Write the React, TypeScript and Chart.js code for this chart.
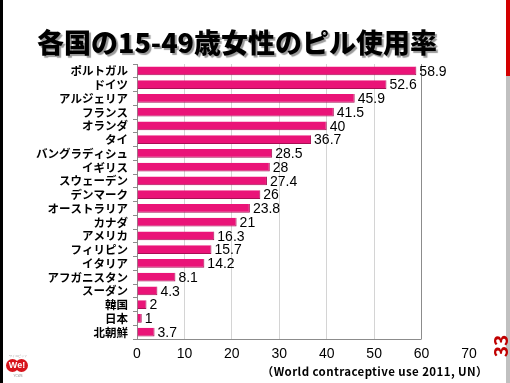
import React, { useEffect, useRef } from "react";
import { Chart, registerables } from "chart.js";

Chart.register(...registerables);

const categories = [
  "ポルトガル", "ドイツ", "アルジェリア", "フランス", "オランダ", "タイ",
  "バングラディシュ", "イギリス", "スウェーデン", "デンマーク", "オーストラリア",
  "カナダ", "アメリカ", "フィリピン", "イタリア", "アフガニスタン", "スーダン",
  "韓国", "日本", "北朝鮮",
];
const values = [58.9, 52.6, 45.9, 41.5, 40, 36.7, 28.5, 28, 27.4, 26, 23.8, 21, 16.3, 15.7, 14.2, 8.1, 4.3, 2, 1, 3.7];
const valueLabels = ["58.9", "52.6", "45.9", "41.5", "40", "36.7", "28.5", "28", "27.4", "26", "23.8", "21", "16.3", "15.7", "14.2", "8.1", "4.3", "2", "1", "3.7"];
const xMin = 0;
const xMax = 70;
const xStep = 10;
const gridEnd = 60;

const title = "各国の15-49歳女性のピル使用率";
const source = "（World contraceptive use 2011, UN）";
const pageNo = "33";

const labelPlugin = {
  id: "valueLabels",
  afterDatasetsDraw(chart: any) {
    const ctx = chart.ctx;
    const meta = chart.getDatasetMeta(0);
    ctx.save();
    ctx.font = "14px 'Liberation Sans', Arial, sans-serif";
    ctx.fillStyle = "#000";
    ctx.textBaseline = "middle";
    ctx.textAlign = "left";
    meta.data.forEach((bar: any, i: number) => {
      ctx.fillText(valueLabels[i], bar.x + 3, bar.y + 1);
    });
    ctx.restore();
  },
};

const axisLinePlugin = {
  id: "axisLine",
  afterDraw(chart: any) {
    const ctx = chart.ctx;
    const xs = chart.scales.x;
    const y = chart.chartArea.bottom;
    ctx.save();
    ctx.strokeStyle = "#8c8c8c";
    ctx.lineWidth = 1;
    ctx.beginPath();
    ctx.moveTo(xs.getPixelForValue(xMin) - 0.5, Math.round(y) + 0.5);
    ctx.lineTo(xs.getPixelForValue(gridEnd), Math.round(y) + 0.5);
    ctx.stroke();
    ctx.restore();
  },
};

export default function App() {
  const ref = useRef<HTMLCanvasElement | null>(null);

  useEffect(() => {
    document.body.style.margin = "0";
    const c = ref.current;
    if (!c) return;
    const chart = new Chart(c, {
      type: "bar",
      data: {
        labels: categories,
        datasets: [
          {
            data: values,
            backgroundColor: "#ea1478",
            borderColor: "#a80f55",
            borderWidth: { top: 0, left: 0, right: 1, bottom: 1 },
            borderSkipped: false,
            barPercentage: 0.64,
            categoryPercentage: 1,
          },
        ],
      },
      options: {
        indexAxis: "y",
        animation: false,
        responsive: false,
        maintainAspectRatio: false,
        layout: { padding: { left: 0, right: 41, top: 64, bottom: 20 } },
        plugins: {
          legend: { display: false },
          tooltip: { enabled: false },
          title: { display: false },
        },
        scales: {
          x: {
            type: "linear",
            min: xMin,
            max: xMax,
            ticks: {
              stepSize: xStep,
              color: "#000",
              padding: 7,
              font: { size: 14, family: "'Liberation Sans', Arial, sans-serif" },
            },
            grid: {
              color: (ctx: any) => {
                const v = ctx.tick ? ctx.tick.value : 0;
                if (v === gridEnd) return "#8c8c8c";
                if (v > gridEnd) return "rgba(0,0,0,0)";
                return "#d4d4d4";
              },
              drawTicks: false,
            },
            border: { display: false },
            afterFit: (s: any) => {
              s.height = 24;
            },
          },
          y: {
            type: "category",
            ticks: {
              color: "#000",
              padding: 5,
              autoSkip: false,
              font: { size: 11.5, weight: "bold", family: "'Noto Sans CJK JP', sans-serif" },
            },
            grid: {
              drawOnChartArea: false,
              drawTicks: true,
              tickLength: 4,
              offset: true,
              color: "#8c8c8c",
            },
            border: { display: true, color: "#8c8c8c" },
            afterFit: (s: any) => {
              s.width = 137;
            },
          },
        },
      },
      plugins: [labelPlugin, axisLinePlugin],
    });
    return () => chart.destroy();
  }, []);

  return (
    <div style={{ position: "absolute", left: 0, top: 0, width: 510, height: 383, background: "#fff", overflow: "hidden" }}>
      <div style={{ position: "absolute", left: 0, top: 0, width: 3, height: 383, background: "#000" }} />
      <div style={{ position: "absolute", left: 506, top: 0, width: 4, height: 76, background: "#d40000" }} />
      <div style={{ position: "absolute", left: 506, top: 76, width: 4, height: 307, background: "#c0c0c0" }} />
      <canvas ref={ref} width={510} height={383} style={{ position: "absolute", left: 0, top: 0, width: 510, height: 383 }} />
      <div
        style={{
          position: "absolute",
          left: 0,
          width: 474,
          top: 25,
          textAlign: "center",
          fontFamily: "'Noto Sans CJK JP', sans-serif",
          fontWeight: 900,
          fontSize: 27,
          lineHeight: "34px",
          color: "#000",
          textShadow: "2px 2px 1px #9a9a9a",
          whiteSpace: "nowrap",
        }}
      >
        {title}
      </div>
      <div
        style={{
          position: "absolute",
          left: 250,
          width: 238,
          top: 363,
          textAlign: "right",
          fontFamily: "'Noto Sans CJK JP', sans-serif",
          fontWeight: 700,
          fontSize: 11.5,
          letterSpacing: "0.4px",
          lineHeight: "16px",
          color: "#000",
          whiteSpace: "nowrap",
        }}
      >
        {source}
      </div>
      <div
        style={{
          position: "absolute",
          left: 487,
          top: 336,
          width: 26,
          height: 20,
          transform: "rotate(-90deg)",
          textAlign: "center",
          fontFamily: "'Noto Sans CJK JP', sans-serif",
          fontWeight: 700,
          fontSize: 19,
          lineHeight: "20px",
          color: "#c00000",
        }}
      >
        {pageNo}
      </div>
      <div style={{ position: "absolute", left: 6, top: 354, width: 24, fontSize: 3, color: "#888", textAlign: "center", lineHeight: "4px", fontFamily: "sans-serif" }}>
        ワイコビッツ
      </div>
      <div style={{ position: "absolute", left: 6, top: 359, width: 13, height: 13, borderRadius: "50%", background: "#d7141c" }} />
      <div style={{ position: "absolute", left: 15, top: 359, width: 13, height: 13, borderRadius: "50%", background: "#d7141c" }} />
      <div style={{ position: "absolute", left: 6, top: 359, width: 22, height: 13, color: "#fff", fontSize: 9, lineHeight: "13px", textAlign: "center", fontWeight: 700, fontFamily: "'Liberation Sans', sans-serif" }}>
        We!
      </div>
      <div style={{ position: "absolute", left: 6, top: 374, width: 24, fontSize: 3, color: "#888", textAlign: "center", lineHeight: "4px", fontFamily: "sans-serif" }}>
        YCWS
      </div>
    </div>
  );
}
